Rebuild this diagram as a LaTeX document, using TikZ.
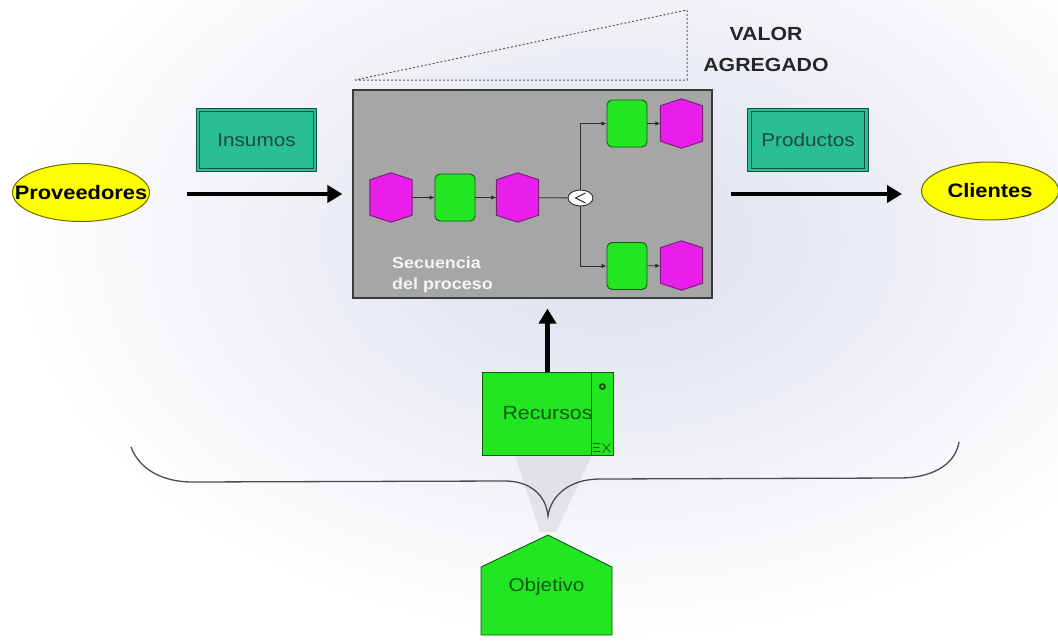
\documentclass[tikz,border=0pt]{standalone}
\usepackage{fontspec}
\setmainfont{Liberation Sans}[FakeStretch=1.12]
\usetikzlibrary{arrows.meta,shapes.geometric}

\definecolor{pinkfill}{HTML}{EA1EEA}
\definecolor{pinkline}{HTML}{7A1F7A}
\definecolor{greenfill}{HTML}{22E622}
\definecolor{greenline}{HTML}{0C5C0C}
\definecolor{greentext}{HTML}{0E5A0E}
\definecolor{tealfill}{HTML}{2ABF90}
\definecolor{tealline}{HTML}{1B4F40}
\definecolor{tealtext}{HTML}{1F4A40}
\definecolor{yelfill}{HTML}{FFFF00}
\definecolor{yelline}{HTML}{6B6B00}
\definecolor{boxfill}{HTML}{A6A6A6}
\definecolor{boxline}{HTML}{3A3A3A}
\definecolor{haze}{HTML}{DCDFEC}
\definecolor{flowgray}{HTML}{2E2E2E}

\tikzset{
  yel/.style={ellipse, draw=yelline, fill=yelfill, line width=1pt,
    minimum width=137pt, minimum height=58pt, inner sep=0pt,
    font=\fontsize{19.5}{22}\selectfont\bfseries},
  docbox/.style={rectangle, draw=tealline, double=tealfill, double distance=2.5pt,
    line width=0.8pt, fill=tealfill, minimum width=117pt, minimum height=60pt,
    inner sep=0pt, text=tealtext, font=\fontsize{18.5}{22}\selectfont},
  evtbox/.style={rectangle, minimum width=42pt, minimum height=49pt, inner sep=0pt},
  evtline/.style={draw=pinkline, fill=pinkfill, line width=1pt, line join=round},
  fn/.style={rectangle, rounded corners=5pt, draw=greenline, fill=greenfill,
    line width=0.9pt, minimum width=40pt, minimum height=47pt, inner sep=0pt},
  flow/.style={draw=flowgray, line width=0.8pt, -{Latex[length=5pt,width=4.5pt]}},
  bigarrow/.style={draw=black, line width=4.5pt, -{Triangle[length=15pt,width=17pt]}},
  greenbox/.style={draw=greenline, fill=greenfill, line width=0.9pt},
  title/.style={anchor=base, inner sep=0pt, text=black!85,
    font=\fontsize{19}{22}\selectfont\bfseries},
  seqtext/.style={anchor=base west, inner sep=0pt, text=white!92!gray,
    font=\fontsize{16}{20}\selectfont\bfseries},
}

% event node: a named box outlined as a hexagon pointed at top and bottom
\newcommand\evtnode[2]{%
  \node[evtbox] (#1) at (#2) {};
  \draw[evtline] (#1.north) -- ([shift={(0,7)}]#1.north east)
    -- ([shift={(0,-7)}]#1.south east) -- (#1.south)
    -- ([shift={(0,-7)}]#1.south west) -- ([shift={(0,7)}]#1.north west) -- cycle;}

\begin{document}
\begin{tikzpicture}[x=1pt, y=-1pt]
  \useasboundingbox (0,0) rectangle (1058,643);

  % background haze
  \fill[white] (0,0) rectangle (1058,643);
  \shade[inner color=haze, outer color=white] (610,240) ellipse [x radius=600, y radius=400];
  \fill[gray, opacity=.14] (515,455) -- (592,455) -- (556,532) -- (540,532) -- cycle;

  % value-added wedge
  \draw[gray!70!black, line width=1pt, dash pattern=on 2pt off 2pt]
    (355,80) -- (687,80) -- (687,10) -- cycle;
  \node[title] (valor) at (766,40) {VALOR};
  \node[title] (agreg) at (766,71) {AGREGADO};

  % process box
  \node[rectangle, draw=boxline, fill=boxfill, line width=1.2pt,
        minimum width=359pt, minimum height=208pt] (box) at (532.5,194) {};

  \evtnode{e1}{391,197.5}
  \node[fn]  (f1) at (455,197.5) {};
  \evtnode{e2}{517.5,197.5}
  \node[ellipse, draw=flowgray, fill=white, line width=0.9pt,
        minimum width=25pt, minimum height=16pt, inner sep=0pt] (xo) at (580.5,198) {};
  \draw[flowgray, line width=1pt] ([shift={(5,-5)}]xo.center) -- ([shift={(-5,0)}]xo.center)
    -- ([shift={(5,5)}]xo.center);
  \node[fn]  (f2) at (627,123.5) {};
  \evtnode{e3}{681.5,123.5}
  \node[fn]  (f3) at (627,266) {};
  \evtnode{e4}{681.5,265.5}

  \draw[flow] (e1) -- (f1);
  \draw[flow] (f1) -- (e2);
  \draw[draw=flowgray, line width=0.8pt] (e2) -- (xo);
  \draw[flow] (xo.north) |- (f2.west);
  \draw[flow] (xo.south) |- (f3.west);
  \draw[flow] (f2) -- (e3);
  \draw[flow] (f3) -- (e4);

  \node[seqtext] (seqa) at (392,268) {Secuencia};
  \node[seqtext] (seqb) at (392,289) {del proceso};

  % suppliers and clients
  \node[yel] (prov) at (81,192.5) {\makebox[0pt]{Proveedores}};
  \node[yel] (cli)  at (990,191)  {\makebox[0pt]{Clientes}};
  \node[docbox] (ins) at (256.5,140) {Insumos};
  \node[docbox] (prod) at (808,140) {Productos};

  \draw[bigarrow, shorten <=37pt, shorten >=10pt] (prov.east |- box.west) -- (box.west);
  \draw[bigarrow, shorten <=18pt, shorten >=19pt] (box.east) -- (cli.west |- box.east);

  % resources
  \node[rectangle, greenbox, minimum width=131pt, minimum height=83pt,
        text=greentext, font=\fontsize{19}{22}\selectfont] (rec) at (547.5,413.5) {Recursos};
  \draw[greenline, line width=0.8pt] ([xshift=-22pt]rec.north east) -- ([xshift=-22pt]rec.south east);
  \fill[greenline] ([shift={(-11,15)}]rec.north east) circle (3.5pt);
  \fill[greenfill!50!white] ([shift={(-11,15)}]rec.north east) circle (1.2pt);
  \draw[greenline, line width=0.7pt]
    ([shift={(-20,-12)}]rec.south east) -- ([shift={(-13,-12)}]rec.south east)
    ([shift={(-20,-8)}]rec.south east) -- ([shift={(-14,-8)}]rec.south east)
    ([shift={(-20,-4)}]rec.south east) -- ([shift={(-13,-4)}]rec.south east)
    ([shift={(-11,-12)}]rec.south east) -- ([shift={(-3,-3)}]rec.south east)
    ([shift={(-11,-3)}]rec.south east) -- ([shift={(-3,-12)}]rec.south east);
  \draw[bigarrow, shorten >=10pt] (rec.north) -- (rec.north |- box.south);

  % brace and objective
  \draw[gray!60!black, line width=1.3pt]
    (131,447) .. controls (140,471) and (165,482) .. (192,482)
    -- (505,481) .. controls (530,481) and (546,495) .. (548,516)
    .. controls (551,495) and (570,479) .. (600,479)
    -- (900,478) .. controls (930,478) and (955,466) .. (959,442);

  \draw[greenbox] (481,567) -- (548,535) -- (612,567) -- (612,635) -- (481,635) -- cycle;
  \node[text=greentext, font=\fontsize{18.5}{22}\selectfont, inner sep=0pt] (obj) at (546.5,587) {Objetivo};
\end{tikzpicture}
\end{document}
